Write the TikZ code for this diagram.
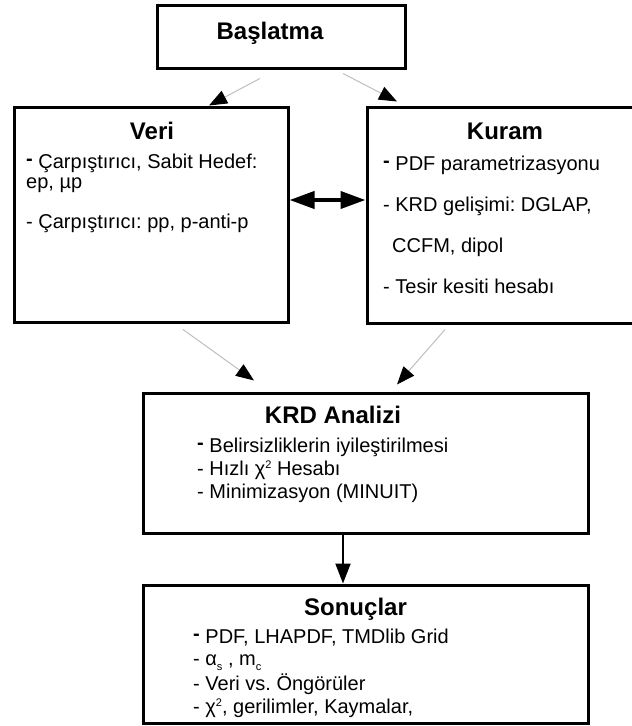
\documentclass[tikz,border=0pt]{standalone}
\usepackage{fontspec}
\setmainfont{Liberation Sans}
\usetikzlibrary{arrows.meta,calc}
\frenchspacing
\newcommand\bdash{\raisebox{3pt}{\textbf{-}}}
\newcommand\supii{\raisebox{7pt}{\fontsize{11}{11}\selectfont 2}}
\newcommand\subx[1]{\raisebox{-5pt}{\fontsize{11}{11}\selectfont #1}}
\tikzset{
 box/.style={draw=black, line width=3pt, inner sep=0pt, fill=white},
 title/.style={font=\bfseries\fontsize{24}{28}\selectfont, inner sep=0pt, anchor=base},
 body/.style={font=\fontsize{20}{23}\selectfont, inner sep=0pt, anchor=base west},
 grayarr/.style={draw=gray!50, line width=1pt, -{Triangle[length=18pt,width=14pt,color=black,fill=black]}},
 dblarr/.style={draw=black, line width=4pt, {Triangle[length=25pt,width=17pt]}-{Triangle[length=25pt,width=17pt]}},
 blkarr/.style={draw=black, line width=2pt, -{Triangle[length=20pt,width=15pt]}}
}
\begin{document}
\begin{tikzpicture}[x=1pt,y=-1pt]
\useasboundingbox (0,0) rectangle (632,726);
\fill[white] (0,0) rectangle (632,726);
\clip (0,0) rectangle (632,726);
% boxes
\node[box, minimum width=248pt, minimum height=63pt] (bas) at (281,36.5) {};
\node[box, minimum width=274pt, minimum height=215pt] (veri) at (151,214.5) {};
\node[box, minimum width=278pt, minimum height=216pt] (kuram) at (506,215) {};
\node[box, minimum width=445pt, minimum height=140pt] (krd) at (365.5,463) {};
\node[box, minimum width=445pt, minimum height=138pt] (son) at (365.5,654) {};
% titles
\node[title] (basT) at (270,39) {Başlatma};
\node[title] (veriT) at (152,139) {Veri};
\node[title] (kuramT) at (505,139) {Kuram};
\node[title] (krdT) at (333,423) {KRD Analizi};
\node[title] (sonT) at (355.5,615) {Sonuçlar};
% Veri body
\node[body] (v1) at (26,168) {\bdash{} Çarpıştırıcı, Sabit Hedef:};
\node[body] (v2) at (26,188) {ep, µp};
\node[body] (v3) at (26,228) {- Çarpıştırıcı: pp, p-anti-p};
% Kuram body
\node[body] (k1) at (383,170) {\bdash{} PDF parametrizasyonu};
\node[body] (k2) at (383,211.5) {- KRD gelişimi: DGLAP,};
\node[body] (k3) at (392,252.5) {CCFM, dipol};
\node[body] (k4) at (383,293) {- Tesir kesiti hesabı};
% KRD body
\node[body] (a1) at (197,452) {\bdash{} Belirsizliklerin iyileştirilmesi};
\node[body] (a2) at (197,475) {- Hızlı χ\supii{} Hesabı};
\node[body] (a3) at (197,498) {- Minimizasyon (MINUIT)};
% Sonuclar body
\node[body] (s1) at (193,643) {\bdash{} PDF, LHAPDF, TMDlib Grid};
\node[body] (s2) at (193,665) {- α\subx{s} , m\subx{c}};
\node[body] (s3) at (193,690) {- Veri vs. Öngörüler};
\node[body] (s4) at (193,713) {- χ\supii, gerilimler, Kaymalar,};
% connectors
\draw[grayarr] ([shift={(-21,9)}]bas.south) -- ([shift={(58,0)}]veri.north);
\draw[grayarr] ([shift={(62,4)}]bas.south) -- ([shift={(-109,-4)}]kuram.north);
\draw[dblarr] ([shift={(0,-14.5)}]veri.east) -- ([shift={(0,-15)}]kuram.west);
\draw[grayarr] ([shift={(32,6)}]veri.south) -- ([shift={(-111.5,-11)}]krd.north);
\draw[grayarr] ([shift={(-61,5)}]kuram.south) -- ([shift={(31.5,-7)}]krd.north);
\draw[blkarr] ([shift={(-22.5,0)}]krd.south) -- ([shift={(-22.5,0)}]son.north);
\end{tikzpicture}
\end{document}
